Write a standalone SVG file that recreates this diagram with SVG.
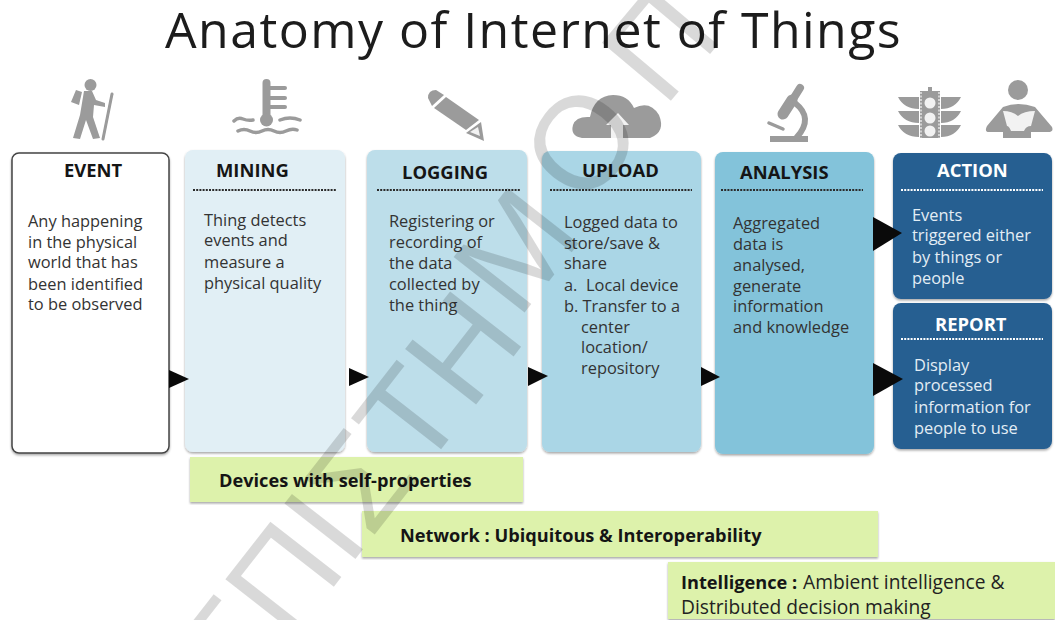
<svg xmlns="http://www.w3.org/2000/svg" width="1055" height="620" viewBox="0 0 1055 620">
<defs>
<filter id="sh" x="-5%" y="-5%" width="110%" height="110%"><feDropShadow dx="0" dy="1.5" stdDeviation="1.2" flood-color="#000" flood-opacity="0.35"/></filter>
<filter id="soft" x="-10%" y="-10%" width="120%" height="120%"><feGaussianBlur stdDeviation="0.6"/></filter>
</defs>
<style>
text{font-family:"Open Sans","Noto Sans","Liberation Sans",sans-serif}
.title{font-size:50px;fill:#1c1c1c;letter-spacing:1.45px}
.h{font-size:18.4px;font-weight:700;fill:#151515}
.b{font-size:16.4px;fill:#333}
.w{fill:#e3edf5}
.hw{fill:#fff}
.g{font-size:19.2px;fill:#222}
.gb{font-size:18.2px;font-weight:700;fill:#151515}
.box{filter:url(#sh)}
.dot{stroke:#2b2b2b;stroke-width:2;stroke-dasharray:2 1.2;fill:none}
.dotw{stroke:#fff}
.ic{fill:#9b9b9b}
.ics{stroke:#9b9b9b;fill:none;stroke-linecap:round}
.lt{fill:#f2f2f2}
.arr{fill:#0a0a0a}
.wm{font-family:"Liberation Sans",sans-serif;font-size:131px;fill:#000;fill-opacity:.15}
</style>
<text class="title" x="165" y="48">Anatomy of Internet of Things</text>

<g id="icons" filter="url(#soft)">
<g id="icon-hiker">
<circle class="ic" cx="90.500" cy="85" r="6"/>
<path class="ic" d="M71 102 L76 90 L82 92 L79 105Z"/>
<path class="ic" d="M84 91 L92 91 L96 100 L105 103 L105 107 L94 105 L93 117 L100 138 L93 139 L86 120 L80 139 L73 138 L80 115Z"/>
<path class="ics" stroke-width="3" d="M112 94 L103 139"/>
</g>
<g id="icon-thermo">
<path class="ics" stroke-width="8" d="M266.500 83 V118"/>
<circle class="ic" cx="266.500" cy="120" r="6.500"/>
<path class="ics" stroke-width="4" d="M268 88 H285 M268 98 H285 M268 107 H285"/>
<path class="ics" stroke-width="3.500" d="M234 121 Q238 117 243 119 T253 120 M280 120 Q285 118 290 118 T300 120 M238 131 Q244 128 250 131 T262 131 T274 131 T286 131 T297 130"/>
</g>
<g id="icon-pencil">
<path class="ic" d="M428 98 Q428 90 436 90 L444 95 L432 106Z"/>
<path class="ic" d="M446 97 L479 120 L466 130 L434 108Z"/>
<path class="ic" d="M466 133 L481 122 L484 141Z"/>
<path class="lt" d="M470 132 L478 127 L480 136Z"/>
</g>
<g id="icon-cloud">
<path class="ic" d="M582 138 Q570 136 573 125 Q576 116 590 117 Q594 96 613 95 Q628 95 634 108 Q650 100 659 115 Q666 132 650 138Z"/>
<path class="lt" d="M618 113 L629 125 L623 125 L623 138 L611 138 L611 125 L606 125Z"/>
</g>
<g id="icon-scope">
<rect class="ic" x="770" y="136" width="38" height="6"/>
<path class="ics" stroke-width="8" stroke-linecap="butt" d="M800 88 L790 104"/>
<path class="ics" stroke-width="11" stroke-linecap="butt" d="M792 100 L783 114"/>
<path class="ics" stroke-width="3.500" d="M769 123 L783 129"/>
<path class="ics" stroke-width="6" d="M795 103 Q814 118 797 137"/>
</g>
<g id="icon-traffic">
<path class="ic" d="M928 87 H932 V91 H940 V138 H920 V91 H928Z"/>
<path class="ic" d="M898 97 H919 V109 Q904 109 898 97Z M898 111 H919 V123 Q904 123 898 111Z M898 125 H919 V137 Q904 137 898 125Z M961 97 H941 V109 Q955 109 961 97Z M961 111 H941 V123 Q955 123 961 111Z M961 125 H941 V137 Q955 137 961 125Z"/>
<path d="M921 92 V138 M939 92 V138" stroke="#f2f2f2" stroke-width="1.300" stroke-dasharray="2 1.500"/>
<circle class="lt" cx="930" cy="103" r="5.500"/><circle class="lt" cx="930" cy="118" r="5.500"/><circle class="lt" cx="930" cy="131" r="5.500"/>
</g>
<g id="icon-reader">
<circle class="ic" cx="1018" cy="90" r="10"/>
<path class="ic" d="M1003 107 Q1018 101 1035 107 L1052 127 Q1054 132 1048 132 L1031 132 V138 H1003 V132 H989 Q984 132 987 126Z"/>
<path class="lt" d="M1003 111 Q1012 111 1018 116 Q1024 111 1035 111 L1031 126 Q1026 126 1024 131 H1011 Q1009 126 1007 126Z"/>
</g>
</g>

<g id="event"><rect class="box" x="12" y="153" width="157" height="300" rx="7" fill="#fff" stroke="#444" stroke-width="1.500"/>
<text class="h" x="64" y="177">EVENT</text>
<text class="b"><tspan x="28" y="227">Any happening</tspan><tspan x="28" y="248">in the physical</tspan><tspan x="28" y="268">world that has</tspan><tspan x="28" y="290">been identified</tspan><tspan x="28" y="310">to be observed</tspan></text></g>

<g id="mining"><rect class="box" x="185" y="150" width="160" height="302" rx="8" fill="#e1eff5"/>
<text class="h" x="216" y="177">MINING</text><path class="dot" d="M193 190 H337"/>
<text class="b"><tspan x="204" y="226">Thing detects</tspan><tspan x="204" y="246">events and</tspan><tspan x="204" y="268">measure a</tspan><tspan x="204" y="289">physical quality</tspan></text></g>

<g id="logging"><rect class="box" x="367" y="150" width="160" height="302" rx="8" fill="#bddeea"/>
<text class="h" x="402" y="179">LOGGING</text><path class="dot" d="M377 190 H520"/>
<text class="b"><tspan x="389" y="227">Registering or</tspan><tspan x="389" y="248">recording of</tspan><tspan x="389" y="269">the data</tspan><tspan x="389" y="290">collected by</tspan><tspan x="389" y="311">the thing</tspan></text></g>

<g id="upload"><rect class="box" x="542" y="151" width="159" height="301" rx="8" fill="#aad6e6"/>
<text class="h" x="582" y="177">UPLOAD</text><path class="dot" d="M550 190 H692"/>
<text class="b"><tspan x="564" y="228">Logged data to</tspan><tspan x="564" y="249">store/save &amp;</tspan><tspan x="564" y="269">share</tspan><tspan x="564" y="291">a.</tspan><tspan x="586" y="291">Local device</tspan><tspan x="564" y="312">b. Transfer to a</tspan><tspan x="581" y="333">center</tspan><tspan x="581" y="353">location/</tspan><tspan x="581" y="374">repository</tspan></text></g>

<g id="analysis"><rect class="box" x="715" y="152" width="159" height="302" rx="8" fill="#83c3da"/>
<text class="h" x="740" y="179">ANALYSIS</text><path class="dot" d="M721 190 H863"/>
<text class="b"><tspan x="733" y="229">Aggregated</tspan><tspan x="733" y="250">data is</tspan><tspan x="733" y="271">analysed,</tspan><tspan x="733" y="292">generate</tspan><tspan x="733" y="312">information</tspan><tspan x="733" y="333">and knowledge</tspan></text></g>

<g id="action"><rect class="box" x="893" y="153" width="159" height="146" rx="8" fill="#255e91"/>
<text class="h hw" x="937" y="177">ACTION</text><path class="dot dotw" d="M901 190 H1043"/>
<text class="b w"><tspan x="912" y="221">Events</tspan><tspan x="912" y="241">triggered either</tspan><tspan x="912" y="263">by things or</tspan><tspan x="912" y="284">people</tspan></text></g>

<g id="report"><rect class="box" x="893" y="303" width="159" height="146" rx="8" fill="#255e91"/>
<text class="h hw" x="935" y="331">REPORT</text><path class="dot dotw" d="M901 339 H1043"/>
<text class="b w"><tspan x="914" y="371">Display</tspan><tspan x="914" y="391">processed</tspan><tspan x="914" y="413">information for</tspan><tspan x="914" y="434">people to use</tspan></text></g>

<g id="devices"><rect class="box" x="190" y="457" width="333" height="45" fill="#ddf2ab"/>
<text class="gb" x="219" y="487">Devices with self-properties</text></g>
<g id="network"><rect class="box" x="362" y="511" width="516" height="46" fill="#ddf2ab"/>
<text class="gb" x="400" y="542">Network : Ubiquitous &amp; Interoperability</text></g>
<g id="intelligence"><rect class="box" x="668" y="562" width="387" height="57" fill="#ddf2ab"/>
<text class="gb" x="681" y="589">Intelligence :</text>
<text class="g" x="803" y="589">Ambient intelligence &amp;</text>
<text class="g" x="681" y="614">Distributed decision making</text></g>

<g id="connectors">
<path class="arr" d="M169 370 L189 379 L169 388Z"/>
<path class="arr" d="M349 368 L369 377 L349 386Z"/>
<path class="arr" d="M528 367 L548 376 L528 386Z"/>
<path class="arr" d="M701 367 L720 377 L701 386Z"/>
<path class="arr" d="M873 217 L902 233 L873 251Z"/>
<path class="arr" d="M873 363 L903 379 L873 396Z"/>
</g>

<g id="watermark">
<text class="wm" transform="translate(236 712) rotate(-52)">ΕΠΙΣΤΗ</text>
<text class="wm" transform="translate(518 321) rotate(-52)">Μ</text>
<text class="wm" text-anchor="middle" transform="translate(617 170) rotate(-52)">Ο</text>
<text class="wm" transform="translate(664 109) rotate(-50)">Π</text>
</g>
</svg>
